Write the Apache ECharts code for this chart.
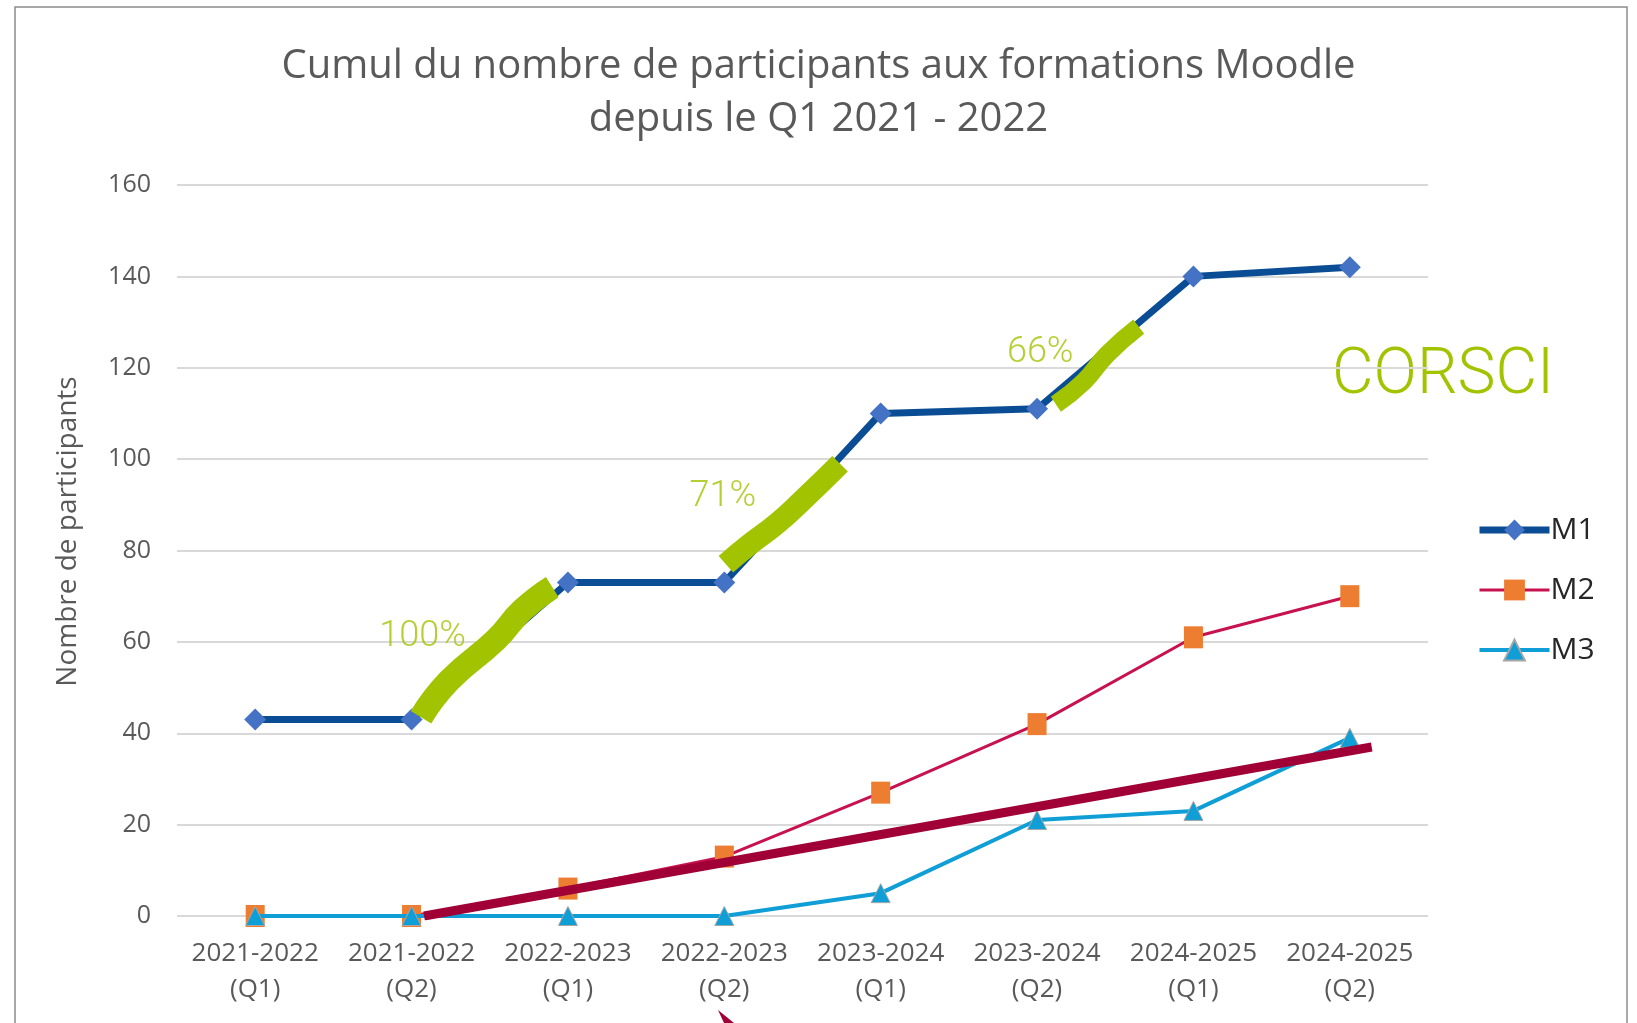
<!DOCTYPE html>
<html>
<head>
<meta charset="utf-8">
<script src="https://cdn.jsdelivr.net/npm/echarts@6/dist/echarts.min.js"></script>
<style>
  html, body { margin: 0; padding: 0; background: #fff; }
  #chart { width: 1637px; height: 1023px; }
</style>
</head>
<body>
<div id="chart"></div>
<script>
const categories = [
  "2021-2022\n(Q1)", "2021-2022\n(Q2)", "2022-2023\n(Q1)", "2022-2023\n(Q2)",
  "2023-2024\n(Q1)", "2023-2024\n(Q2)", "2024-2025\n(Q1)", "2024-2025\n(Q2)"
];
const m1 = [43, 43, 73, 73, 110, 111, 140, 142];
const m2 = [0, 0, 6, 13, 27, 42, 61, 70];
const m3 = [0, 0, 0, 0, 5, 21, 23, 39];

// hand drawn marks, [category position, value]
const trend = [[1.08, 0], [7.14, 37]];
const stroke1 = [[1.06, 43.5], [1.24, 51.5], [1.54, 60.5], [1.71, 67], [1.9, 72]];
const stroke2 = [[3.01, 77], [3.15, 81], [3.34, 86], [3.5, 91], [3.74, 99]];
const stroke3 = [[5.12, 112], [5.3, 117], [5.45, 123], [5.65, 129]];
const notes = [[1.07, 61, "100%"], [2.99, 91.7, "71%"], [5.02, 123.2, "66%"]];

const green = "#A2C300";
const font = "Open Sans";

let chart = echarts.init(document.getElementById("chart"));

function stroke(data, w) {
  return {
    type: "line", xAxisIndex: 1, data: data, smooth: true,
    symbol: "none", silent: true, z: 4,
    lineStyle: { color: green, width: w, cap: "butt" }
  };
}

chart.setOption({
  animation: false,
  textStyle: { fontFamily: font },
  title: {
    text: "Cumul du nombre de participants aux formations Moodle\ndepuis le Q1 2021 - 2022",
    left: "center",
    top: 35,
    textStyle: { fontFamily: font, fontSize: 40, fontWeight: "normal", color: "#595959", lineHeight: 53 }
  },
  legend: {
    orient: "vertical",
    left: 1471,
    top: 510,
    itemWidth: 70,
    itemHeight: 26,
    itemGap: 30,
    data: ["M1", "M2", "M3"],
    lineStyle: { width: "inherit" },
    textStyle: { fontFamily: font, fontSize: 30, color: "#262626", padding: [0, 0, 0, -4] }
  },
  grid: { left: 177, right: 209, top: 185, bottom: 107 },
  xAxis: [{
    type: "category",
    data: categories,
    boundaryGap: true,
    axisLine: { show: false },
    axisTick: { show: false },
    axisLabel: { color: "#595959", fontSize: 26, lineHeight: 36, margin: 20, interval: 0 }
  }, {
    type: "value", min: -0.5, max: 7.5, show: false
  }],
  yAxis: {
    type: "value",
    min: 0, max: 160, interval: 20,
    name: "Nombre de participants",
    nameLocation: "middle",
    nameGap: 95,
    nameTextStyle: { color: "#595959", fontSize: 28, padding: [0, 0, 0, 38] },
    axisLine: { show: false },
    axisTick: { show: false },
    axisLabel: { color: "#595959", fontSize: 25, margin: 26 },
    splitLine: { lineStyle: { color: "#D9D9D9", width: 2 } }
  },
  series: [
    {
      name: "M2", type: "line", data: m2, z: 2,
      symbol: "rect", symbolSize: [19, 22],
      lineStyle: { color: "#C8124F", width: 3 },
      itemStyle: { color: "#ED7D31" }
    },
    {
      name: "M3", type: "line", data: m3, z: 3,
      symbol: "triangle", symbolSize: 19,
      lineStyle: { color: "#0F9ED5", width: 4 },
      itemStyle: { color: "#0F9ED5", borderColor: "#A6A6A6", borderWidth: 1 }
    },
    {
      name: "M1", type: "line", data: m1, z: 3,
      symbol: "diamond", symbolSize: 22,
      lineStyle: { color: "#0A4D94", width: 7 },
      itemStyle: { color: "#4472C4" }
    },
    stroke(stroke1, 24),
    stroke(stroke2, 22),
    stroke(stroke3, 18),
    {
      type: "line", xAxisIndex: 1, data: trend, symbol: "none", silent: true, z: 5,
      lineStyle: { color: "#A00036", width: 9 }
    },
    {
      type: "scatter", xAxisIndex: 1, symbolSize: 0, silent: true, clip: false,
      data: notes.map(n => ({ value: [n[0], n[1]], name: n[2] })),
      label: {
        show: true, position: "inside", formatter: p => p.name,
        color: green, fontSize: 36, fontFamily: "Roboto", fontWeight: 300
      }
    }
  ],
  graphic: [
    {
      type: "text", left: 1332, top: 345, silent: true,
      style: { text: "CORSCI", fill: green, fontSize: 64, fontFamily: "Roboto", fontWeight: 300 }
    },
    {
      type: "rect", silent: true, z: -1,
      shape: { x: 15, y: 7, width: 1612, height: 1100 },
      style: { fill: "none", stroke: "#8C8C8C", lineWidth: 1.5 }
    },
    {
      type: "polygon", silent: true,
      shape: { points: [[718, 1010], [724, 1023], [734, 1023]] },
      style: { fill: "#A00036" }
    }
  ]
});
</script>
</body>
</html>
